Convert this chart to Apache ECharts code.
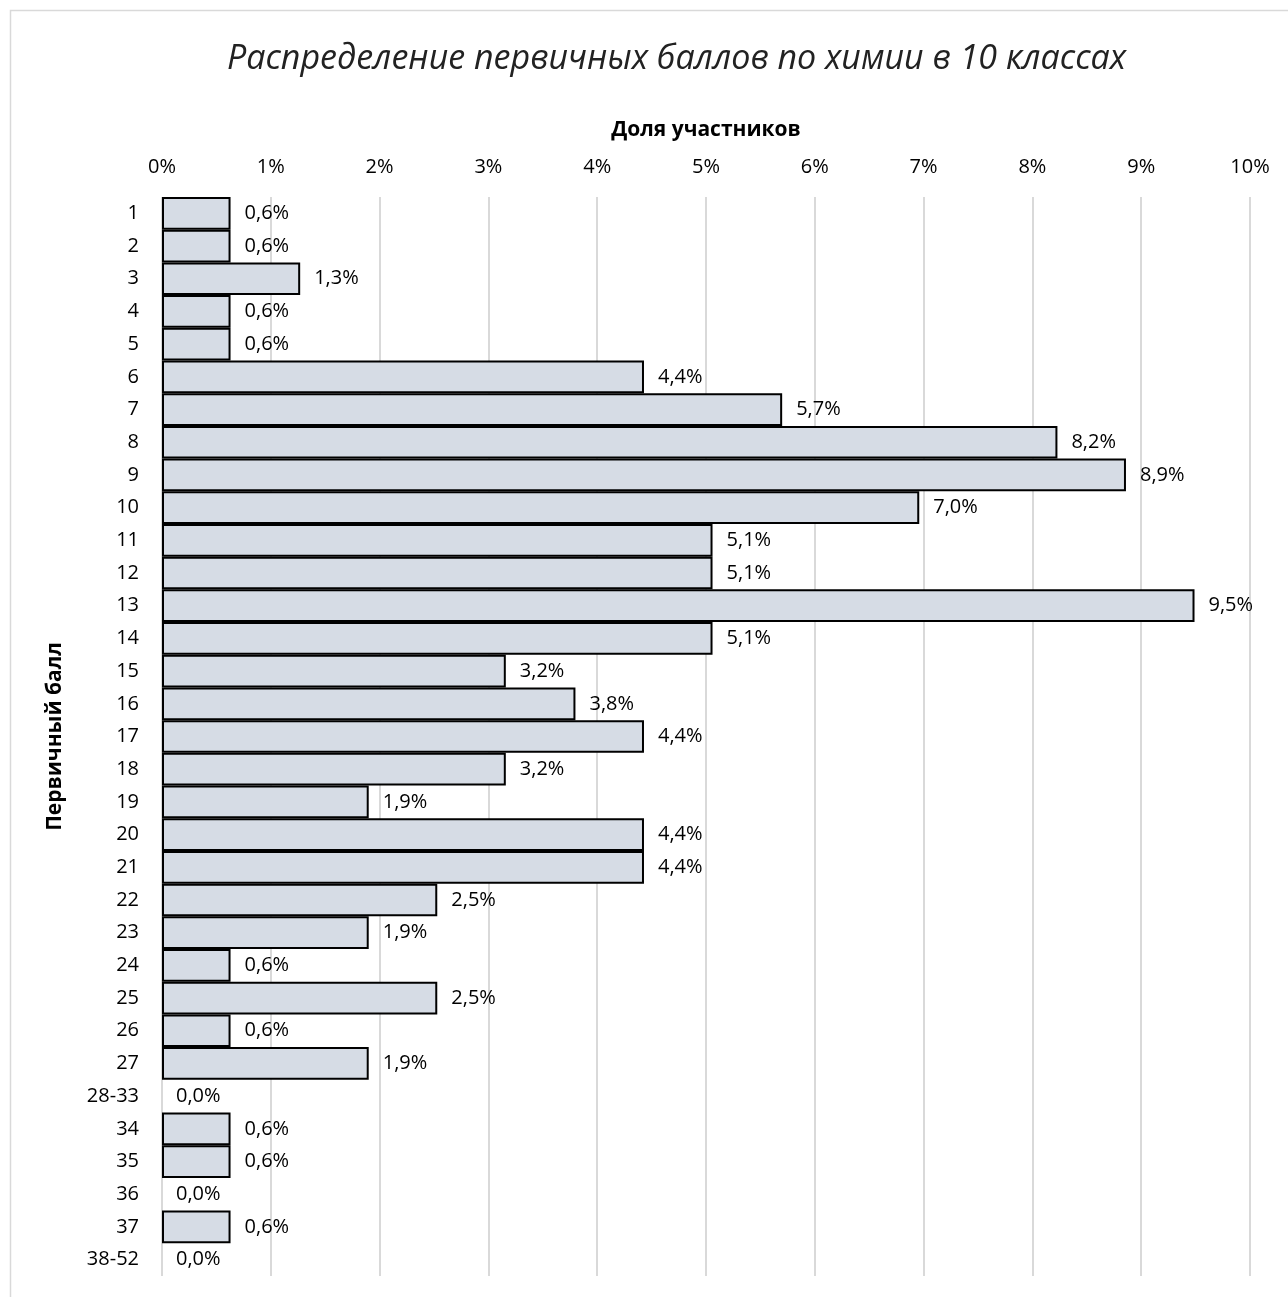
<!DOCTYPE html>
<html><head><meta charset="utf-8">
<script src="https://cdn.jsdelivr.net/npm/echarts@6/dist/echarts.min.js"></script>
<style>html,body{margin:0;padding:0;background:#fff}#c{width:1288px;height:1297px}</style>
</head><body><div id="c"></div>
<script>
const categories = ['1','2','3','4','5','6','7','8','9','10','11','12','13','14','15','16','17','18','19','20','21','22','23','24','25','26','27','28-33','34','35','36','37','38-52'];
const shares = [0.63,0.63,1.27,0.63,0.63,4.43,5.70,8.23,8.86,6.96,5.06,5.06,9.49,5.06,3.16,3.80,4.43,3.16,1.90,4.43,4.43,2.53,1.90,0.63,2.53,0.63,1.90,0,0.63,0.63,0,0.63,0];
const xTicks = {min:0, max:10, interval:1};
const titleText = 'Распределение первичных баллов по химии в 10 классах';
const xName = 'Доля участников';
const yName = 'Первичный балл';

const FONT = '"Open Sans", "Noto Sans", sans-serif';
const barData = shares.map(v => v === 0 ? {value:v, itemStyle:{borderWidth:0}} : v);
const chart = echarts.init(document.getElementById('c'), null, {renderer:'canvas'});
chart.setOption({
  backgroundColor:'#fff',
  animation:false,
  graphic:[{type:'rect', shape:{x:10.5,y:10.5,width:1300,height:1300}, style:{fill:'none', stroke:'#D9D9D9', lineWidth:1.5}, z:-1}],
  title:{text:titleText, left:222, top:37, textStyle:{fontFamily:FONT, fontStyle:'italic', fontWeight:'normal', fontSize:34, color:'#222'}},
  grid:{left:162, right:38, top:197, bottom:21, containLabel:false},
  xAxis:{type:'value', position:'top', min:xTicks.min, max:xTicks.max, interval:xTicks.interval,
    name:xName, nameLocation:'middle', nameGap:56,
    nameTextStyle:{fontFamily:FONT, fontWeight:'bold', fontSize:21, color:'#000'},
    axisLine:{show:false}, axisTick:{show:false},
    axisLabel:{formatter:'{value}%', fontFamily:FONT, fontSize:20, color:'#000', margin:20},
    splitLine:{show:true, lineStyle:{color:'#D9D9D9', width:2}}},
  yAxis:{type:'category', data:categories, inverse:true,
    name:yName, nameLocation:'middle', nameGap:96, nameRotate:90,
    nameTextStyle:{fontFamily:FONT, fontWeight:'bold', fontSize:21, color:'#000'},
    axisLine:{show:false}, axisTick:{show:false},
    axisLabel:{fontFamily:FONT, fontSize:20, color:'#000', margin:23, interval:0},
    splitLine:{show:false}},
  series:[{type:'bar', data:barData, barCategoryGap:'0%',
    itemStyle:{color:'#D6DCE5', borderColor:'#000', borderWidth:2},
    label:{show:true, position:'right', distance:14, fontFamily:FONT, fontSize:20, color:'#000',
      formatter:p=>p.value.toFixed(1).replace('.',',')+'%'}}]
});
</script></body></html>
